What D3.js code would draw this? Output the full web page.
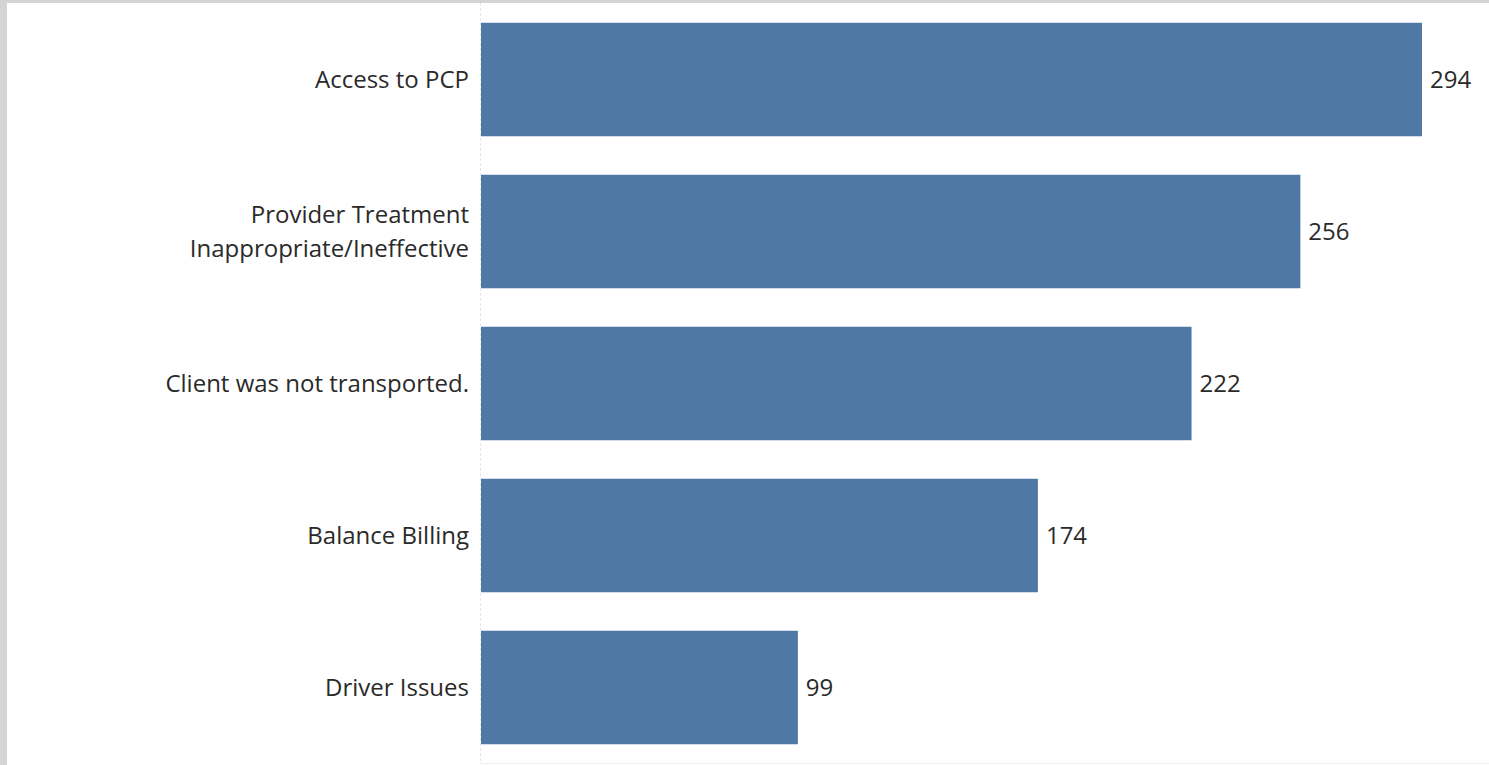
<!DOCTYPE html>
<html>
<head>
<meta charset="utf-8">
<script src="https://cdn.jsdelivr.net/npm/d3@7"></script>
<style>
  html, body { margin: 0; padding: 0; background: #d4d4d4; }
  svg { display: block; }
</style>
</head>
<body>
<svg id="chart" width="1489" height="765"></svg>
<script>
// Complaint categories and their counts
const categories = [
  ["Access to PCP"],
  ["Provider Treatment", "Inappropriate/Ineffective"],
  ["Client was not transported."],
  ["Balance Billing"],
  ["Driver Issues"]
];
const counts = [294, 256, 222, 174, 99];

const W = 1489, H = 765;
const svg = d3.select("#chart");

// white panel inside the grey frame
svg.append("rect").attr("x", 7).attr("y", 3).attr("width", W - 7).attr("height", H - 3).attr("fill", "#ffffff");

const plotLeft = 481, plotTop = 3, plotBottom = 763;
const x = d3.scaleLinear().domain([0, 300]).range([plotLeft, plotLeft + 960.2]);
const y = d3.scaleBand().domain(d3.range(categories.length))
  .range([plotTop + 0.5, plotBottom + 0.5]).paddingInner(0.2533).paddingOuter(0.1267);

const font = "'Open Sans', 'Noto Sans', sans-serif";
const textColor = "#2a2a2a";

// faint zero line and bottom rule
svg.append("line").attr("x1", plotLeft - 0.5).attr("x2", plotLeft - 0.5).attr("y1", plotTop).attr("y2", plotBottom)
  .attr("stroke", "#e6e6e6").attr("stroke-width", 1).attr("stroke-dasharray", "3,2");
svg.append("line").attr("x1", plotLeft - 1).attr("x2", W).attr("y1", plotBottom + 0.5).attr("y2", plotBottom + 0.5)
  .attr("stroke", "#ececec").attr("stroke-width", 1);

const rows = svg.append("g").selectAll("g").data(counts).join("g");

rows.append("rect")
  .attr("x", x(0))
  .attr("y", (d, i) => y(i))
  .attr("width", d => x(d) - x(0))
  .attr("height", y.bandwidth())
  .attr("fill", "#4e79a7");

// value labels to the right of each bar
rows.append("text")
  .attr("x", d => x(d) + 8)
  .attr("y", (d, i) => y(i) + y.bandwidth() / 2)
  .attr("dy", "0.35em")
  .attr("font-family", font)
  .attr("font-size", 24)
  .attr("fill", textColor)
  .text(d => d);

// category labels, right aligned against the axis
const lineGap = 34;
rows.append("text")
  .attr("text-anchor", "end")
  .attr("font-family", font)
  .attr("font-size", 24)
  .attr("fill", textColor)
  .each(function(d, i) {
    const lines = categories[i];
    const cy = y(i) + y.bandwidth() / 2;
    d3.select(this).selectAll("tspan").data(lines).join("tspan")
      .attr("x", plotLeft - 12)
      .attr("y", (t, k) => cy + (k - (lines.length - 1) / 2) * lineGap)
      .attr("dy", "0.35em")
      .text(t => t);
  });
</script>
</body>
</html>
